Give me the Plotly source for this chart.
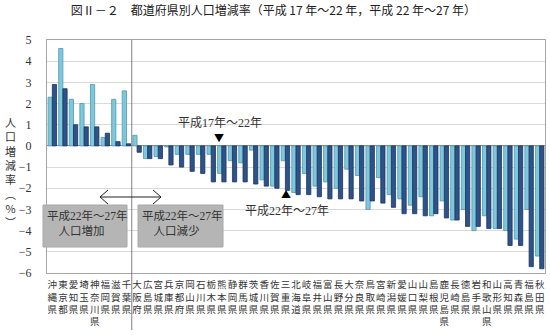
import plotly.graph_objects as go

prefectures = ["沖縄県", "東京都", "愛知県", "埼玉県", "神奈川県", "福岡県", "滋賀県", "千葉県",
               "大阪府", "広島県", "宮城県", "兵庫県", "京都府", "岡山県", "石川県", "栃木県",
               "熊本県", "静岡県", "群馬県", "茨城県", "香川県", "佐賀県", "三重県", "北海道",
               "岐阜県", "福井県", "富山県", "長野県", "大分県", "奈良県", "鳥取県", "宮崎県",
               "新潟県", "愛媛県", "山口県", "山梨県", "島根県", "鹿児島県", "長崎県", "徳島県",
               "岩手県", "和歌山県", "山形県", "高知県", "青森県", "福島県", "秋田県"]

rate_h17_22 = [2.3, 4.6, 2.2, 2.0, 2.9, 0.4, 2.2, 2.6,
               0.5, -0.6, -0.5, -0.05, -0.4, -0.4, -0.4, -0.4,
               -1.3, -0.7, -0.8, -0.2, -1.6, -1.9, -0.7, -2.2,
               -1.3, -1.9, -1.7, -2.0, -1.1, -1.4, -3.0, -1.5,
               -2.3, -2.5, -2.8, -2.4, -3.3, -2.6, -3.5, -3.0,
               -4.0, -3.3, -3.9, -4.0, -4.4, -3.0, -5.2]

rate_h22_27 = [2.9, 2.7, 1.0, 0.9, 0.9, 0.6, 0.2, 0.1,
               -0.3, -0.6, -0.6, -0.9, -1.0, -1.2, -1.3, -1.7,
               -1.7, -1.7, -1.7, -1.8, -1.9, -2.0, -2.1, -2.3,
               -2.3, -2.4, -2.5, -2.5, -2.5, -2.6, -2.6, -2.7,
               -2.9, -3.2, -3.2, -3.3, -3.2, -3.4, -3.5, -3.8,
               -3.8, -3.9, -3.9, -4.7, -4.7, -5.7, -5.8]

y_ticks = [5, 4, 3, 2, 1, 0, -1, -2, -3, -4, -5, -6]

tick_text = ["<br>".join(list(p)) for p in prefectures]

CJK = "Noto Sans CJK JP"
SERIF = "Liberation Serif, Noto Sans CJK JP"

fig = go.Figure()
fig.add_trace(go.Bar(x=prefectures, y=rate_h17_22, name="平成17年～22年",
                     marker=dict(color="#7FC7DB", line=dict(color="#4F98B0", width=0.8))))
fig.add_trace(go.Bar(x=prefectures, y=rate_h22_27, name="平成22年～27年",
                     marker=dict(color="#2D5388", line=dict(color="#1B3560", width=0.8))))

# plot area in pixels: x 47..545, y 40..273
def px(x):
    return (x - 47) / 498.0

def py(y):
    return (273 - y) / 233.0

shapes = [
    # separator between increase / decrease
    dict(type="line", xref="x", yref="paper", x0=7.5, x1=7.5, y0=py(330), y1=1,
         line=dict(color="#808080", width=1)),
    # gray boxes
    dict(type="rect", xref="paper", yref="paper", x0=px(43), x1=px(127), y0=py(247), y1=py(205),
         fillcolor="#B5B5B5", line=dict(color="#A8A8A8", width=1), layer="above"),
    dict(type="rect", xref="paper", yref="paper", x0=px(138), x1=px(223), y0=py(247), y1=py(205),
         fillcolor="#B5B5B5", line=dict(color="#A8A8A8", width=1), layer="above"),
    # double headed arrow
    dict(type="path", xref="paper", yref="paper",
         path=(f"M{px(100)},{py(197)} L{px(161)},{py(197)} "
               f"M{px(108)},{py(190)} L{px(100)},{py(197)} L{px(108)},{py(204)} "
               f"M{px(153)},{py(190)} L{px(161)},{py(197)} L{px(153)},{py(204)}"),
         line=dict(color="#222222", width=1)),
]

annotations = [
    dict(text="平成17年～22年", x=px(220), y=py(115), xref="paper", yref="paper",
         showarrow=False, borderpad=0, font=dict(family=SERIF, size=12, color="#333333")),
    dict(text="▼", x=px(219), y=py(137), xref="paper", yref="paper",
         showarrow=False, borderpad=0, font=dict(family=CJK, size=10, color="#000000")),
    dict(text="▲", x=px(286), y=py(202), xref="paper", yref="paper",
         showarrow=False, borderpad=0, font=dict(family=CJK, size=10, color="#000000")),
    dict(text="平成22年～27年", x=px(287), y=py(219), xref="paper", yref="paper",
         showarrow=False, borderpad=0, font=dict(family=SERIF, size=12, color="#333333")),
    dict(text="平成22年～27年<br>　人口増加", x=px(45), y=py(207), xref="paper", yref="paper",
         xanchor="left", yanchor="top", align="left", showarrow=False,
         font=dict(family=SERIF, size=11.5, color="#333333")),
    dict(text="平成22年～27年<br>　人口減少", x=px(140), y=py(207), xref="paper", yref="paper",
         xanchor="left", yanchor="top", align="left", showarrow=False,
         font=dict(family=SERIF, size=11.5, color="#333333")),
    dict(text="人<br>口<br>増<br>減<br>率<br>︵<br>%<br>︶", x=px(10), y=py(172),
         xref="paper", yref="paper", xanchor="center", yanchor="middle",
         showarrow=False, font=dict(family=CJK, size=11, color="#333333")),
]

fig.update_layout(
    width=550, height=335,
    margin=dict(l=47, r=5, t=40, b=62),
    paper_bgcolor="white", plot_bgcolor="white",
    showlegend=False,
    bargap=0.2, bargroupgap=0.0, barmode="group",
    title=dict(text="図Ⅱ－２　都道府県別人口増減率（平成 17 年～22 年，平成 22 年～27 年）",
               x=0.497, xanchor="center", y=1 - 11 / 335, yanchor="middle",
               font=dict(family=CJK, size=12, color="#222222")),
    xaxis=dict(type="category", tickmode="array", tickvals=prefectures, ticktext=tick_text,
               showgrid=False, ticks="", showline=True, mirror=True, linecolor="#A6A6A6",
               tickfont=dict(family=CJK, size=9.5, color="#333333"), tickangle=0,
               ticklabelstandoff=3),
    yaxis=dict(range=[-6, 5], tickmode="array", tickvals=y_ticks, showgrid=True,
               gridcolor="#D9D9D9", zeroline=True, zerolinecolor="#8C8C8C", zerolinewidth=1,
               showline=True, mirror=True, linecolor="#A6A6A6", ticks="",
               tickfont=dict(family=SERIF, size=12, color="#333333"), ticklabelstandoff=12),
    shapes=shapes,
    annotations=annotations,
)

fig.write_html("out.html")
